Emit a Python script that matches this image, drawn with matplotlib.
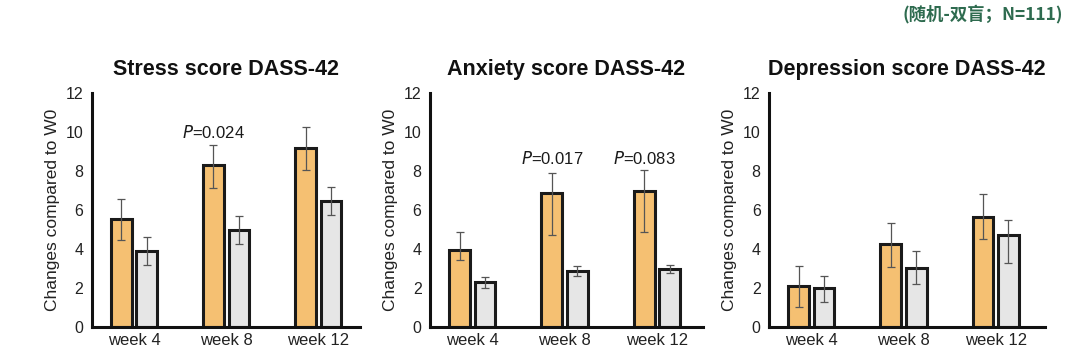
import matplotlib.pyplot as plt
import numpy as np

plt.rcParams['font.family'] = ['Liberation Sans', 'DejaVu Sans']

weeks = ['week 4', 'week 8', 'week 12']
titles = ['Stress score DASS-42', 'Anxiety score DASS-42', 'Depression score DASS-42']

# treatment (orange) and control (grey) means, error bars as (down, up)
stress_trt = [5.52, 8.30, 9.17]
stress_trt_err = [[1.07, 1.15, 1.10], [1.07, 1.04, 1.09]]
stress_ctl = [3.89, 4.97, 6.45]
stress_ctl_err = [[0.73, 0.70, 0.68], [0.73, 0.74, 0.76]]

anx_trt = [3.95, 6.86, 7.00]
anx_trt_err = [[0.50, 2.16, 2.12], [0.92, 1.02, 1.07]]
anx_ctl = [2.29, 2.89, 3.00]
anx_ctl_err = [[0.31, 0.26, 0.25], [0.29, 0.23, 0.20]]

dep_trt = [2.11, 4.26, 5.66]
dep_trt_err = [[1.09, 1.20, 1.13], [1.04, 1.07, 1.16]]
dep_ctl = [2.00, 3.03, 4.72]
dep_ctl_err = [[0.69, 0.80, 1.45], [0.60, 0.85, 0.76]]

p_labels = [
    [(1, 10.0, '0.024')],
    [(1, 8.65, '0.017'), (2, 8.65, '0.083')],
    [],
]

panels = [
    (stress_trt, stress_trt_err, stress_ctl, stress_ctl_err),
    (anx_trt, anx_trt_err, anx_ctl, anx_ctl_err),
    (dep_trt, dep_trt_err, dep_ctl, dep_ctl_err),
]

fig = plt.figure(figsize=(10.8, 3.61), dpi=100)
lefts = [0.085, 0.398, 0.712]
widths = [0.248, 0.253, 0.256]
rights = [2.45, 2.50, 2.54]

x = np.arange(len(weeks))
bw = 0.225
off = 0.138
for i, (trt, trt_e, ctl, ctl_e) in enumerate(panels):
    ax = fig.add_axes([lefts[i], 0.094, widths[i], 0.648])
    ax.bar(x - off, trt, bw, color='#F5C072', edgecolor='#1a1a1a', linewidth=2.2, zorder=2)
    ax.bar(x + off, ctl, bw, color='#E6E6E6', edgecolor='#1a1a1a', linewidth=2.2, zorder=2)
    ax.errorbar(x - off, trt, yerr=trt_e, fmt='none', ecolor='#555555', elinewidth=0.9,
                capsize=3, capthick=0.9, zorder=3)
    ax.errorbar(x + off, ctl, yerr=ctl_e, fmt='none', ecolor='#555555', elinewidth=0.9,
                capsize=3, capthick=0.9, zorder=3)
    for gi, yv, pv in p_labels[i]:
        ax.text(gi - off, yv, r'$\it{P}$=' + pv, ha='center', va='center', fontsize=12,
                color='#1a1a1a')
    ax.set_ylim(0, 12)
    ax.set_xlim(-0.46, rights[i])
    ax.set_yticks(range(0, 13, 2))
    ax.set_xticks(x)
    ax.set_xticklabels(weeks)
    ax.tick_params(axis='both', length=0, labelsize=11.5, colors='#222222', pad=6)
    ax.tick_params(axis='x', labelsize=12, pad=4)
    for s in ['top', 'right']:
        ax.spines[s].set_visible(False)
    for s in ['left', 'bottom']:
        ax.spines[s].set_linewidth(2.2)
        ax.spines[s].set_color('#111111')
    ax.set_ylabel('Changes compared to W0', fontsize=12.5, color='#222222', labelpad=4)
    ax.set_title(titles[i], fontsize=15.5, fontweight='bold', pad=13, color='#111111')

fig.text(0.984, 0.962, '(随机-双盲；N=111)', ha='right', va='center', fontsize=12.5,
         fontweight='semibold', color='#2E6B4F', family=['Noto Sans CJK SC', 'DejaVu Sans'])

fig.savefig('out.png', dpi=100)
